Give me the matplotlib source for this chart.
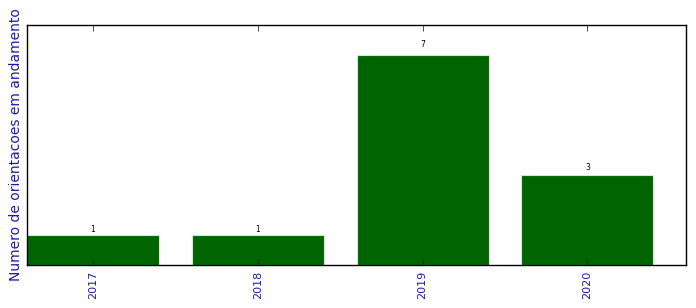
import numpy as np
from matplotlib import pyplot as plt

plt.style.use('classic')

anos = ['2017', '2018', '2019', '2020']
orientacoes = [1, 1, 7, 3]

x = np.arange(len(anos))

fig, ax = plt.subplots(figsize=(6.96, 3.08), dpi=100)
fig.patch.set_facecolor('white')

bars = ax.bar(x, orientacoes, width=0.8, align='center', color='darkgreen', edgecolor='#d8e8d8', linewidth=0.8)

for b in bars:
    h = b.get_height()
    ax.text(b.get_x() + b.get_width() / 2., 1.03 * h, '%d' % int(h),
            ha='center', va='bottom', fontsize=5.5)

ax.set_xlim(-0.4, 3.6)
ax.set_ylim(0, 8)
ax.set_yticks([])
ax.set_xticks(x)
ax.set_xticklabels(anos, rotation=90, fontsize=8, color='#1c1ca0')
ax.set_ylabel('Numero de orientacoes em andamento', fontsize=10, color='#1c1ca0', labelpad=3)

plt.subplots_adjust(left=0.039, right=0.986, top=0.919, bottom=0.14)
plt.savefig('out.png', dpi=100, facecolor='white')
